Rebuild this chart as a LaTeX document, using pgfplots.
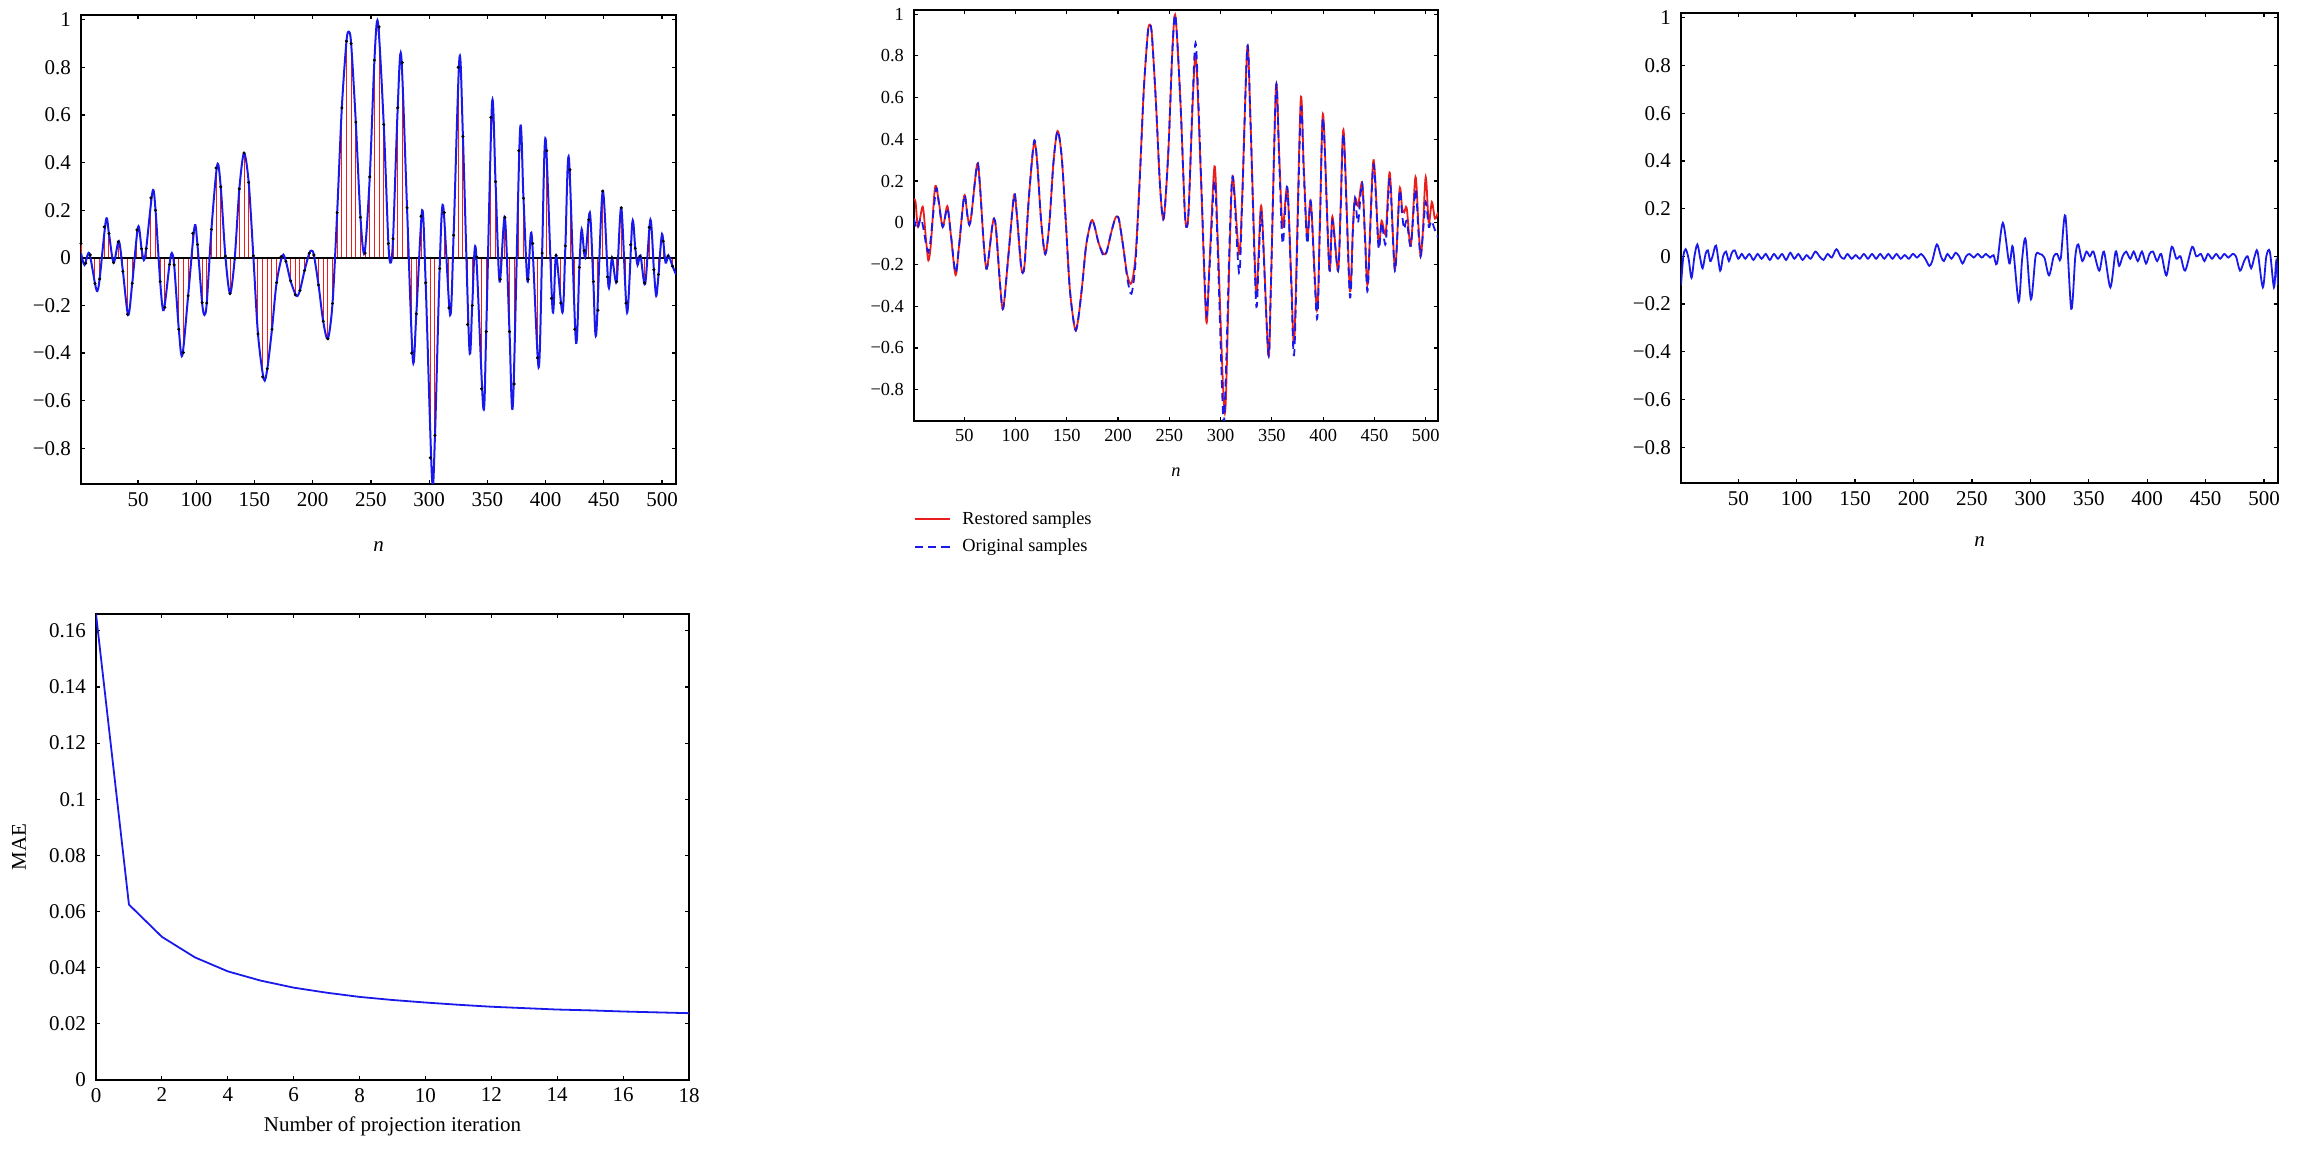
\documentclass[border=0pt]{standalone}
\usepackage{pgfplots}
\pgfplotsset{compat=1.18}
\usepackage{pgfplotstable}
\usepackage{fontspec}
\setmainfont{Liberation Serif}
\definecolor{mblue}{RGB}{25,25,235}
\definecolor{mred}{RGB}{235,30,30}

% original signal
\pgfplotstableread{
x y
1 0.02
4 -0.03
8 0.02
13 -0.108
15 -0.14
17 -0.089
22.5 0.16
25 0.102
29 -0.02
33.5 0.07
37 -0.057
41.5 -0.24
45 -0.107
50 0.13
53 0.038
55 -0.01
57 0.039
62.5 0.28
65 0.2
69 -0.10
72 -0.22
77 -0.028
79 0.02
81 -0.03
85 -0.30
88 -0.41
93 -0.16
98.5 0.13
101 0.056
105 -0.188
107 -0.24
109 -0.19
113 0.119
118 0.39
121 0.298
125 0.007
129 -0.15
133 -0.003
137 0.29
141 0.44
145 0.317
149 0.008
153 -0.32
158 -0.51
161 -0.466
165 -0.30
169 -0.104
174 0.01
177 -0.015
181 -0.097
186 -0.16
189 -0.137
193 -0.053
197 0.019
199 0.03
201 0.012
205 -0.114
209 -0.266
213 -0.34
217 -0.192
221 0.19
225 0.63
229 0.91
231 0.95
233 0.90
237 0.57
241 0.17
244.5 0.02
249 0.34
253 0.83
256 0.99
261 0.56
265 0.06
267 -0.02
269 0.08
273 0.63
276 0.85
281 0.21
286 -0.43
289 -0.235
294 0.20
297 -0.105
302.5 -0.93
305 -0.746
309 -0.045
312 0.22
318 -0.24
321 0.095
326 0.84
329 0.51
334.5 -0.38
337 -0.20
340 0.04
346.5 -0.63
349 -0.31
354 0.65
357 0.32
360.5 -0.10
365 0.17
369 -0.31
372 -0.61
378 0.53
381 0.25
384.5 -0.10
388 0.10
394 -0.46
397 0.02
400 0.50
406 -0.22
409 0.01
414.5 -0.23
417 0.05
420 0.42
426 -0.35
429 -0.04
431 0.12
434 0.00
438 0.19
441 -0.10
443.5 -0.32
449 0.28
454 -0.12
457 0.00
461 -0.10
465 0.21
470 -0.23
474.5 0.15
477 0.04
479 -0.03
481.5 0.01
485.5 -0.11
490 0.16
493 -0.05
495 -0.16
497 -0.07
500 0.10
503 -0.02
505.5 0.01
509 -0.035
512 -0.07
}\orig

% sampled values (stems)
\pgfplotstableread{
x y
1 0.06
5 -0.023
9 0.012
13 -0.108
17 -0.089
21 0.13
25 0.102
29 -0.02
33 0.067
37 -0.057
41 -0.237
45 -0.107
49 0.117
53 0.038
57 0.039
61 0.252
65 0.2
69 -0.10
73 -0.208
77 -0.028
81 -0.03
85 -0.30
89 -0.398
93 -0.16
97 0.103
101 0.056
105 -0.188
109 -0.19
113 0.119
117 0.377
121 0.298
125 0.007
129 -0.15
133 -0.003
137 0.29
141 0.44
145 0.317
149 0.008
153 -0.32
157 -0.50
161 -0.466
165 -0.30
169 -0.104
173 0.005
177 -0.015
181 -0.097
185 -0.155
189 -0.137
193 -0.053
197 0.019
201 0.012
205 -0.114
209 -0.266
213 -0.34
217 -0.192
221 0.19
225 0.63
229 0.91
233 0.90
237 0.57
241 0.17
245 0.02
249 0.34
253 0.83
257 0.97
261 0.56
265 0.06
269 0.08
273 0.63
277 0.82
281 0.21
285 -0.40
289 -0.235
293 0.175
297 -0.105
301 -0.84
305 -0.746
309 -0.045
313 0.19
317 -0.21
321 0.095
325 0.80
329 0.51
333 -0.28
337 -0.20
341 0.003
345 -0.55
349 -0.31
353 0.59
357 0.32
361 -0.09
365 0.17
369 -0.31
373 -0.53
377 0.45
381 0.25
385 -0.09
389 0.06
393 -0.42
397 0.02
401 0.45
405 -0.17
409 0.01
413 -0.19
417 0.05
421 0.37
425 -0.30
429 -0.04
433 0.03
437 0.16
441 -0.10
445 -0.22
449 0.28
453 -0.08
457 0.00
461 -0.10
465 0.21
469 -0.19
473 0.055
477 0.04
481 0.006
485 -0.105
489 0.128
493 -0.05
497 -0.07
501 0.07
505 0.007
509 -0.035
}\stems

% restored signal
\pgfplotstableread{
x y
1 0.11
2.5 0.10
5 -0.02
9.5 0.077
12.5 -0.07
15 -0.18
17.5 -0.10
21.5 0.17
25 0.11
29 -0.02
33.5 0.08
37 -0.06
41.5 -0.25
45 -0.107
50 0.13
53 0.038
55 -0.01
57 0.039
62.5 0.28
65 0.2
69 -0.10
72 -0.22
77 -0.028
79 0.02
81 -0.03
85 -0.30
88 -0.41
93 -0.16
98.5 0.13
101 0.056
105 -0.188
107 -0.24
109 -0.19
113 0.119
118 0.38
121 0.298
125 0.007
129 -0.15
133 -0.003
137 0.29
141 0.44
145 0.317
149 0.008
153 -0.32
158 -0.51
161 -0.466
165 -0.30
169 -0.104
174 0.01
177 -0.015
181 -0.097
186 -0.15
189 -0.137
193 -0.053
197 0.019
199 0.03
201 0.012
205 -0.114
209 -0.25
213 -0.29
217 -0.16
221 0.20
225 0.63
229 0.91
231 0.95
233 0.90
237 0.57
241 0.17
244.5 0.02
249 0.34
253 0.83
256 0.99
261 0.56
265 0.06
267 -0.02
269 0.08
273 0.60
276 0.79
281 0.19
286 -0.47
289 -0.21
294 0.27
297 -0.05
302.5 -0.80
305 -0.86
309 -0.10
312 0.22
318 -0.15
321 0.12
326 0.84
329 0.51
334.5 -0.33
337 -0.15
340 0.07
346.5 -0.63
349 -0.31
354 0.65
357 0.34
360.5 -0.02
365 0.17
369 -0.28
372 -0.55
378 0.58
381 0.28
384.5 -0.08
388 0.10
394 -0.42
397 0.04
400 0.52
406 -0.22
409 0.03
414.5 -0.23
417 0.07
420 0.44
426 -0.32
429 -0.02
431 0.12
434 0.08
438 0.19
441 -0.08
443.5 -0.29
449 0.30
454 -0.10
457 0.01
461 -0.05
465 0.24
470 -0.22
474.5 0.16
477 0.07
479 0.05
481.5 0.07
485.5 -0.11
490 0.22
493 -0.02
495 -0.16
497 -0.06
500 0.22
503 0.00
506 0.10
509 0.02
512 0.05
}\rest

% restoration error
\pgfplotstableread{
x y
1 -0.12
3 0.0
5 0.03
7.5 -0.01
10 -0.09
12.5 0.0
15 0.05
17.5 -0.01
19.5 -0.05
22 0.01
24 0.025
26 -0.02
28 0.0
31 0.045
34.5 -0.06
37 0.0
39.5 0.02
42 -0.02
44.5 0.015
47 0.025
50 -0.01
53 0.01
56 -0.01
59.5 0.01
63 -0.015
66.5 0.01
70 -0.01
73.5 0.01
77 -0.015
80.5 0.01
84 -0.01
87.5 0.01
91 -0.015
94.5 0.015
98 -0.01
101.5 0.01
105 -0.015
108.5 0.005
112 -0.01
116 0.02
119.5 0.0
123 -0.015
126.5 0.01
130 -0.005
134 0.03
137.5 0.0
140.5 -0.01
143.5 0.01
147 -0.01
150.5 0.005
154 -0.01
157.5 0.01
161 -0.01
164.5 0.01
168 -0.01
171.5 0.01
175 -0.01
178.5 0.01
182 -0.01
185.5 0.01
189 -0.01
192.5 0.005
196 -0.01
199.5 0.01
203 -0.005
206.5 0.01
210 -0.01
213.5 -0.04
216 -0.02
220 0.05
223.5 0.0
226 -0.02
229 0.01
232.5 -0.01
236 0.015
239 0.0
242 -0.03
245 0.0
248 0.01
251.5 -0.005
255 0.01
258.5 -0.005
262 0.01
265.5 -0.005
268.5 0.005
271.5 -0.03
276.5 0.14
282 -0.03
285 0.04
290 -0.19
293 -0.01
296 0.07
300.5 -0.18
304.5 0.0
308 0.01
312 -0.005
316 -0.08
320 0.0
323 0.01
326 -0.01
330 0.17
335 -0.22
338.5 0.0
341 0.05
344.5 -0.02
348 0.02
351 0.0
354 0.02
359 -0.06
363 0.02
368.5 -0.13
373 0.02
376 -0.04
379 0.0
382 0.02
385.5 -0.01
388.5 0.02
392 -0.02
395.5 0.02
399 -0.03
402 0.01
405 0.02
408.5 -0.02
412 0.01
416.5 -0.08
421 0.04
425 -0.01
428.5 0.0
432.5 -0.06
438.5 0.04
442 0.0
446 0.01
449 -0.02
452 0.01
455.5 -0.01
459 0.01
462.5 -0.01
466 0.01
469.5 -0.005
473 0.01
476 0.0
479.5 -0.06
483 -0.02
486 0.0
489 -0.05
492 0.0
494.5 0.02
499 -0.13
502 0.0
505 0.02
508.5 -0.13
510.5 -0.02
512 -0.12
}\err

\pgfplotstableread{
x y
0 0.166
1 0.0625
2 0.0510
3 0.0437
4 0.0387
5 0.0354
6 0.0329
7 0.0311
8 0.0296
9 0.0285
10 0.0276
11 0.0268
12 0.0261
13 0.0256
14 0.0251
15 0.0248
16 0.0244
17 0.0241
18 0.0238
}\mae

\pgfplotsset{
  base/.style={
    scale only axis,
    axis line style={line width=1pt},
    every tick/.style={black, line width=0.6pt},
    major tick length=2.2pt,
    tick align=inside,
    /pgf/number format/assume math mode=true,
    yticklabel style={xshift=-1.5pt},
    xticklabel style={yshift=-0.5pt},
    xlabel style={at={(axis description cs:0.5,0)}, anchor=center},
    clip=true,
  },
  sig/.style={
    base,
    xmin=1, xmax=512, ymin=-0.95, ymax=1.02,
    xtick={50,100,150,200,250,300,350,400,450,500},
    ytick={-0.8,-0.6,-0.4,-0.2,0,0.2,0.4,0.6,0.8,1},
    yticklabels={−0.8,−0.6,−0.4,−0.2,0,0.2,0.4,0.6,0.8,1},
    xlabel={\textit{n}},
  },
}

\begin{document}
\begin{tikzpicture}
\path[use as bounding box] (0,0) rectangle (1149pt,-579.5pt);

% top left
\begin{axis}[sig, at={(40.5pt,-7.5pt)}, anchor=north west,
  width=297.5pt, height=234.5pt,
  font=\fontsize{10.5}{12}\selectfont,
  xlabel style={yshift=-31.5pt}]
\addplot[mred, line width=0.5pt, ycomb] table {\stems};
\addplot[black, line width=1pt] coordinates {(1,0) (512,0)};
\addplot[mblue, line width=1pt, smooth] table {\orig};
\addplot[only marks, mark=*, mark size=0.55pt,
  mark options={draw=none, fill=mblue!60!black}] table {\stems};
\end{axis}

% top middle
\begin{axis}[sig, at={(457pt,-5pt)}, anchor=north west,
  width=262pt, height=205.5pt,
  font=\fontsize{9.2}{11}\selectfont,
  xlabel style={yshift=-25.5pt},
  legend style={at={(axis description cs:0,0)}, anchor=north west,
    yshift=-43pt, draw=none, fill=none, inner sep=0pt,
    column sep=4pt, row sep=2pt,
    font=\fontsize{9.2}{11}\selectfont},
  legend cell align=left]
\addplot[mred, line width=0.9pt, smooth] table {\rest};
\addlegendentry{Restored samples}
\addplot[mblue, line width=0.9pt, smooth, dash pattern=on 4pt off 2.5pt] table {\orig};
\addlegendentry{Original samples}
\end{axis}

% top right
\begin{axis}[sig, at={(840.5pt,-6.5pt)}, anchor=north west,
  width=298.5pt, height=235pt,
  font=\fontsize{10.5}{12}\selectfont,
  xlabel style={yshift=-29.5pt}]
\addplot[mblue, line width=0.9pt, smooth] table {\err};
\end{axis}

% bottom
\begin{axis}[base, at={(48pt,-307pt)}, anchor=north west,
  width=296.5pt, height=233pt,
  font=\fontsize{10.5}{12}\selectfont,
  xmin=0, xmax=18, ymin=0, ymax=0.166,
  xtick={0,2,4,6,8,10,12,14,16,18},
  ytick={0,0.02,0.04,0.06,0.08,0.1,0.12,0.14,0.16},
  yticklabels={0,0.02,0.04,0.06,0.08,0.1,0.12,0.14,0.16},
  xlabel={Number of projection iteration},
  ylabel={MAE},
  xlabel style={yshift=-23pt},
  ylabel style={at={(axis description cs:0,0.5)}, anchor=center, yshift=38.5pt}]
\addplot[mblue, line width=0.9pt] table {\mae};
\end{axis}
\end{tikzpicture}
\end{document}
